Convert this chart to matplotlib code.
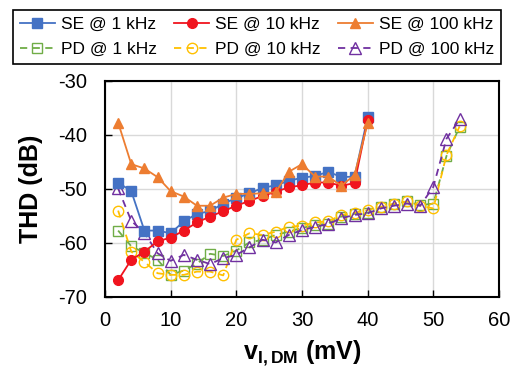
import matplotlib
matplotlib.use("Agg")
import matplotlib.pyplot as plt

plt.rcParams['font.family'] = ['Liberation Sans', 'DejaVu Sans']
plt.rcParams['mathtext.fontset'] = 'custom'
plt.rcParams['mathtext.rm'] = 'Liberation Sans'
plt.rcParams['mathtext.bf'] = 'Liberation Sans:bold'
plt.rcParams['axes.unicode_minus'] = False

x_se = [2, 4, 6, 8, 10, 12, 14, 16, 18, 20, 22, 24, 26, 28, 30, 32, 34, 36, 38, 40]
se_1k = [-48.8, -50.4, -57.7, -57.7, -58.2, -56.0, -54.6, -54.1, -52.7, -51.7,
         -50.8, -49.8, -49.3, -48.5, -47.9, -47.6, -46.8, -47.8, -47.7, -36.7]
se_10k = [-66.9, -63.1, -61.6, -59.7, -59.0, -57.7, -56.2, -55.1, -54.1, -53.1,
          -52.2, -51.3, -50.5, -49.7, -49.3, -48.8, -48.8, -49.4, -48.9, -37.2]
se_100k = [-37.7, -45.4, -46.2, -47.8, -50.4, -51.4, -53.1, -53.1, -51.6, -50.9,
           -50.9, -50.8, -50.6, -46.8, -45.4, -47.7, -47.7, -49.4, -47.4, -37.8]

x_pd = [2, 4, 6, 8, 10, 12, 14, 16, 18, 20, 22, 24, 26, 28, 30, 32, 34, 36, 38,
        40, 42, 44, 46, 48, 50, 52, 54]
pd_1k = [-57.7, -60.6, -61.8, -63.1, -65.9, -65.1, -63.8, -62.0, -62.4, -61.4,
         -59.9, -59.4, -58.5, -57.9, -57.2, -56.7, -56.4, -55.1, -54.6, -54.4,
         -53.4, -52.8, -52.3, -53.0, -52.7, -43.9, -38.5]
pd_10k = [-54.0, -61.6, -63.5, -65.6, -65.9, -65.9, -65.3, -65.3, -66.0, -59.4,
          -58.2, -58.5, -57.9, -57.0, -56.8, -56.2, -56.0, -54.8, -54.4, -53.9,
          -53.3, -52.7, -52.3, -53.1, -53.6, -43.7, -38.4]
pd_100k = [-49.9, -55.9, -58.1, -61.9, -63.3, -62.2, -63.1, -63.9, -62.8, -62.2,
           -60.8, -59.4, -59.9, -58.5, -57.6, -57.0, -56.5, -55.4, -54.8, -54.5,
           -53.6, -53.1, -52.7, -53.1, -49.6, -40.7, -37.1]

xticks = [0, 10, 20, 30, 40, 50, 60]
yticks = [-70, -60, -50, -40, -30]

c_blue = '#4472C4'
c_red = '#F0141E'
c_orange = '#ED7D31'
c_green = '#70AD47'
c_yellow = '#FFC000'
c_purple = '#7030A0'

fig = plt.figure(figsize=(5.11, 3.74), dpi=100)
ax = fig.add_axes([105/511, 1-297/374, 394/511, 216/374])

lw = 1.3
h1, = ax.plot(x_se, se_1k, '-', color=c_blue, marker='s', ms=6.5, lw=lw, label='SE @ 1 kHz', zorder=3)
h2, = ax.plot(x_se, se_10k, '-', color=c_red, marker='o', ms=7, lw=lw, label='SE @ 10 kHz', zorder=3)
h3, = ax.plot(x_se, se_100k, '-', color=c_orange, marker='^', ms=7.5, lw=lw, label='SE @ 100 kHz', zorder=3)
h4, = ax.plot(x_pd, pd_1k, '--', color=c_green, marker='s', ms=7, mfc='none', mew=1.0, lw=lw,
              dashes=(4, 3), label='PD @ 1 kHz', zorder=2)
h5, = ax.plot(x_pd, pd_10k, '--', color=c_yellow, marker='o', ms=7.5, mfc='none', mew=1.0, lw=lw,
              dashes=(4, 3), label='PD @ 10 kHz', zorder=2)
h6, = ax.plot(x_pd, pd_100k, '--', color=c_purple, marker='^', ms=8, mfc='none', mew=1.0, lw=lw,
              dashes=(4, 3), label='PD @ 100 kHz', zorder=2)

ax.set_xlim(0, 60)
ax.set_ylim(-70, -30)
ax.set_xticks(xticks)
ax.set_yticks(yticks)
ax.grid(True, color='#D9D9D9', lw=1.0)
ax.set_axisbelow(True)
ax.tick_params(direction='in', length=5, width=1, labelsize=14.5)
ax.tick_params(axis='y', pad=13)
ax.tick_params(axis='x', pad=10)
for s in ax.spines.values():
    s.set_linewidth(1.5)
    s.set_color('black')

ax.set_ylabel('THD (dB)', fontsize=18, fontweight='bold', labelpad=11)
ax.set_xlabel(r'$\mathbf{v}_{\mathbf{I,DM}}$' + ' (mV)', fontsize=18, fontweight='bold', labelpad=6)

handles = [h1, h4, h2, h5, h3, h6]
leg = fig.legend(handles, [h.get_label() for h in handles],
                 loc='upper center', bbox_to_anchor=(0.503, 0.973), ncol=3, fontsize=12.5,
                 frameon=True, fancybox=False, edgecolor='black', framealpha=1,
                 columnspacing=1.0, handlelength=2.0, handletextpad=0.35,
                 borderpad=0.4, labelspacing=0.55, borderaxespad=0)
leg.get_frame().set_linewidth(1.2)

fig.savefig('out.png', dpi=100)
